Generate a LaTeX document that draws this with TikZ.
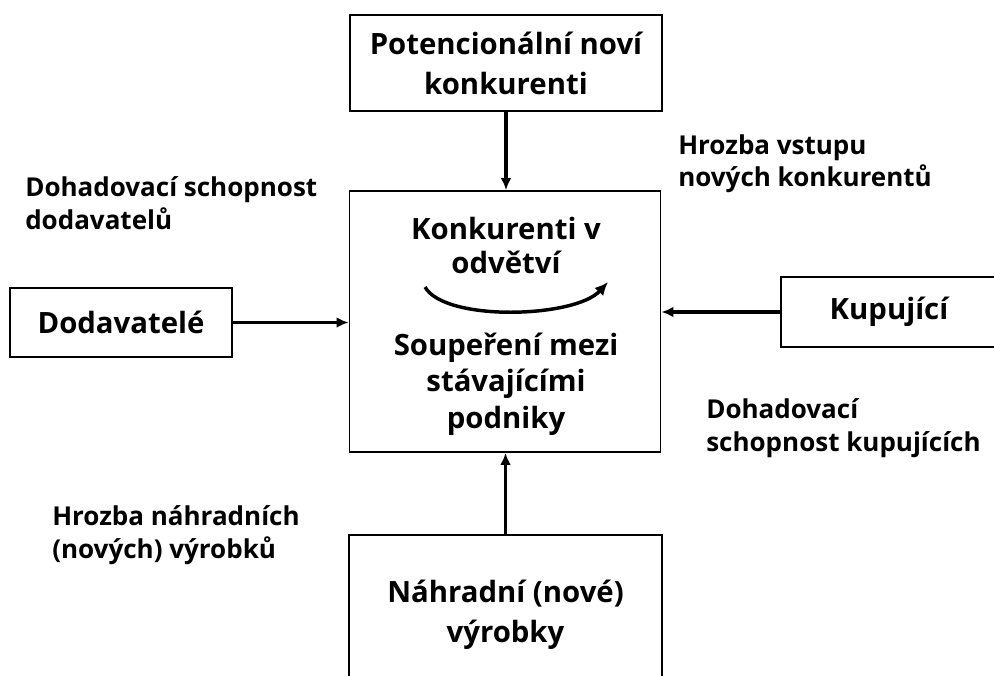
\documentclass[tikz,border=0pt]{standalone}
\usepackage{fontspec}
\setmainfont{Open Sans}
\usetikzlibrary{positioning,arrows.meta}
\newlength\pxu
\setlength\pxu{0.75pt}

\begin{document}
\begin{tikzpicture}[x=0.75pt,y=-0.75pt,
  every node/.style={font=\bfseries,align=center},
  forcebox/.style={draw,line width=1.3pt,inner sep=0pt,font=\fontsize{22}{30}\selectfont\bfseries},
  forcelbl/.style={anchor=north west,align=left,inner sep=0pt,font=\fontsize{19.5}{24.7}\selectfont\bfseries},
  forcearr/.style={-{Latex[length=9pt,width=8pt]},line width=2.4pt}]
  \useasboundingbox (0,0) rectangle (994,675);
  \clip (0,0) rectangle (994,675);
  % boxes
  \node[forcebox,minimum width=312\pxu,minimum height=96\pxu] (entrants) at (506,63) {Potencionální noví\\konkurenti};
  \node[forcebox,minimum width=311\pxu,minimum height=261\pxu] (rivals) at (505,321.5) {};
  \node[forcebox,minimum width=222\pxu,minimum height=69\pxu] (suppliers) at (121,322.5) {Dodavatelé};
  \node[forcebox,minimum width=216\pxu,minimum height=70\pxu] (buyers) at (889,312) {Kupující};
  \node[forcebox,minimum width=313\pxu,minimum height=160\pxu] (substitutes) at (505.5,615) {Náhradní (nové)\\výrobky};
  % texts inside the rivalry box
  \node[font=\fontsize{22}{26}\selectfont\bfseries] (industry) at (506,245.5) {Konkurenti v\\odvětví};
  \node[font=\fontsize{22}{27.5}\selectfont\bfseries] (rivalry) at (506,384) {Soupeření mezi\\stávajícími\\podniky};
  % labels
  \node[forcelbl] (supplierpower) at (25,176) {Dohadovací schopnost\\dodavatelů};
  \node[forcelbl] (entrythreat) at (678,134) {Hrozba vstupu\\nových konkurentů};
  \node[forcelbl] (buyerpower) at (706,398) {Dohadovací\\schopnost kupujících};
  \node[forcelbl] (substthreat) at (52,505) {Hrozba náhradních\\(nových) výrobků};
  % arrows
  \draw[forcearr] (entrants.south) -- (entrants.south |- rivals.north);
  \draw[forcearr] (suppliers.east) -- (suppliers.east -| rivals.west);
  \draw[forcearr] (buyers.west) -- (buyers.west -| rivals.east);
  \draw[forcearr] (substitutes.north) -- (substitutes.north |- rivals.south);
  \coordinate (swoopA) at (425,287);
  \coordinate (swoopB) at (608,282);
  \draw[-{Latex[length=10pt,width=9pt]},line width=2.6pt] (swoopA) .. controls (445,322) and (575,318) .. (swoopB);
\end{tikzpicture}
\end{document}
